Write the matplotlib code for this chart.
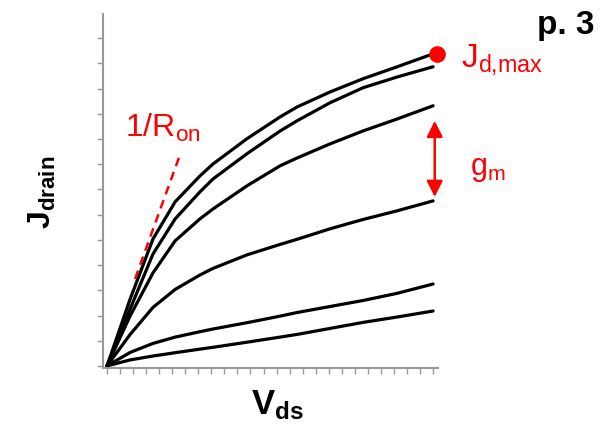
import matplotlib.pyplot as plt
from matplotlib.ticker import MultipleLocator

plt.rcParams['font.family'] = ['Liberation Sans', 'DejaVu Sans']
plt.rcParams['mathtext.fontset'] = 'custom'
plt.rcParams['mathtext.rm'] = 'Liberation Sans'
plt.rcParams['mathtext.it'] = 'Liberation Sans'
plt.rcParams['mathtext.bf'] = 'Liberation Sans:bold'

# drain voltage samples and output curves (one per gate voltage, top to bottom)
vds = [0, 0.71, 1.41, 2.09, 2.85, 3.25, 4.29, 5.31, 5.83, 6.84, 7.85, 8.9, 10]
j_vg6 = [0, 2.23, 4.23, 5.47, 6.33, 6.73, 7.57, 8.30, 8.63, 9.13, 9.57, 9.97, 10.40]
j_vg5 = [0, 1.90, 3.73, 4.90, 5.80, 6.23, 7.07, 7.83, 8.17, 8.77, 9.27, 9.63, 9.97]
j_vg4 = [0, 1.67, 3.10, 4.17, 4.90, 5.23, 6.00, 6.67, 6.93, 7.40, 7.83, 8.23, 8.67]
j_vg3 = [0, 1.05, 1.95, 2.55, 3.03, 3.25, 3.70, 4.05, 4.22, 4.57, 4.88, 5.17, 5.50]
j_vg2 = [0, 0.45, 0.75, 0.96, 1.14, 1.23, 1.44, 1.66, 1.78, 1.98, 2.18, 2.42, 2.73]
j_vg1 = [0, 0.20, 0.33, 0.44, 0.56, 0.62, 0.79, 0.96, 1.05, 1.25, 1.45, 1.63, 1.83]
curves = [j_vg6, j_vg5, j_vg4, j_vg3, j_vg2, j_vg1]

# on-resistance tangent segment
ron_v = [0.86, 2.27]
ron_j = [2.9, 7.13]

red = '#ff0000'

fig = plt.figure(figsize=(6.1, 4.27), dpi=100)
ax = fig.add_axes([0.169, 0.136, 0.549, 0.829])

for j in curves:
    ax.plot(vds, j, color='black', lw=2.3, solid_capstyle='round',
            solid_joinstyle='round')

ax.plot(ron_v, ron_j, color=red, lw=1.8, ls=(0, (3.5, 2.5)))

# maximum current point
ax.plot([10.12], [j_vg6[-1]], 'o', color=red, ms=11, clip_on=False, zorder=5)

# transconductance arrow between two gate steps
ax.annotate('', xy=(10.05, j_vg4[-1] - 0.5), xytext=(10.05, j_vg3[-1] + 0.13),
            arrowprops=dict(arrowstyle='<|-|>', color=red, lw=1.8,
                            mutation_scale=24, shrinkA=0, shrinkB=0),
            annotation_clip=False)

ax.set_xlim(-0.12, 10.15)
ax.set_ylim(-0.067, 11.73)

for side in ['top', 'right']:
    ax.spines[side].set_visible(False)
for side in ['left', 'bottom']:
    ax.spines[side].set_color('#999999')
    ax.spines[side].set_linewidth(1.5)

ax.xaxis.set_major_locator(MultipleLocator(0.4))
ax.yaxis.set_major_locator(MultipleLocator(0.84))
ax.tick_params(axis='both', colors='#999999', length=4, width=1,
               labelbottom=False, labelleft=False)

fig.text(0.07, 0.55, r'$\mathbf{J}_{\mathbf{drain}}$', rotation=90,
         fontsize=23, ha='center', va='center')
fig.text(0.455, 0.05, r'$\mathbf{V}_{\mathbf{ds}}$', fontsize=25,
         ha='center', va='center')
fig.text(0.975, 0.94, 'p. 3', fontsize=24, fontweight='bold',
         ha='right', va='center')

fig.text(0.205, 0.7, r'1/R$_{\mathrm{on}}$', color=red, fontsize=23,
         ha='left', va='center')
fig.text(0.755, 0.86, r'J$_{\mathrm{d{,}max}}$', color=red, fontsize=24,
         ha='left', va='center')
fig.text(0.77, 0.605, r'g$_{\mathrm{m}}$', color=red, fontsize=22,
         ha='left', va='center')

fig.savefig('out.png', dpi=100)
